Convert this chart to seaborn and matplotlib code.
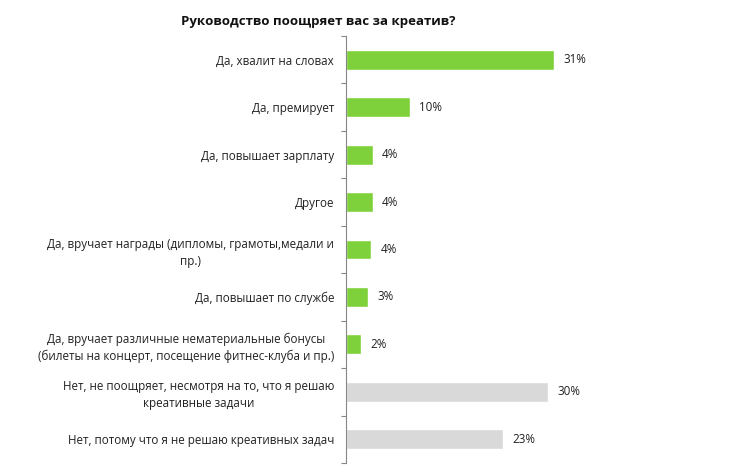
import matplotlib
matplotlib.use("Agg")
import matplotlib.pyplot as plt
import seaborn as sns
import pandas as pd
import numpy as np

categories = [
    "Да, хвалит на словах",
    "Да, премирует",
    "Да, повышает зарплату",
    "Другое",
    "Да, вручает награды (дипломы, грамоты,медали и\nпр.)",
    "Да, повышает по службе",
    "Да, вручает различные нематериальные бонусы\n(билеты на концерт, посещение фитнес-клуба и пр.)",
    "Нет, не поощряет, несмотря на то, что я решаю\nкреативные задачи",
    "Нет, потому что я не решаю креативных задач",
]
values = [31.0, 9.5, 4.0, 4.0, 3.8, 3.3, 2.2, 30.1, 23.4]
value_labels = ["31%", "10%", "4%", "4%", "4%", "3%", "2%", "30%", "23%"]
groups = ["yes"] * 7 + ["no"] * 2

df = pd.DataFrame({"cat": categories, "val": values, "grp": groups})

sns.set_style("white")
plt.rcParams["font.family"] = ["Open Sans", "DejaVu Sans"]

fig = plt.figure(figsize=(7.56, 4.75), dpi=100)
ax = fig.add_axes([346/756, 1 - 463/475, 268/756, 427/475])

sns.barplot(data=df, y="cat", x="val", hue="grp",
            palette={"yes": "#7fd13b", "no": "#d9d9d9"}, saturation=1,
            dodge=False, width=0.42, legend=False, ax=ax, orient="h")

ax.set_xlim(0, 40)
ax.set_ylim(len(categories) - 0.5, -0.5)
ax.set_xlabel("")
ax.set_ylabel("")
ax.set_xticks([])

for s in ["top", "right", "bottom"]:
    ax.spines[s].set_visible(False)
ax.spines["left"].set_color("#868686")
ax.spines["left"].set_linewidth(0.8)

ax.set_yticks(range(len(categories)))
ax.set_yticklabels(categories, fontsize=8.4, color="#222222",
                   multialignment="center", linespacing=1.35)
ax.tick_params(axis="y", which="major", left=False, length=0, pad=8.6)
ax.set_yticks(np.arange(-0.5, len(categories) + 0.5, 1), minor=True)
ax.tick_params(axis="y", which="minor", left=True, length=3.6, color="#868686", width=0.8)

for i, (v, lab) in enumerate(zip(values, value_labels)):
    ax.text(v + 1.4, i, lab, va="center", ha="left", fontsize=8.4, color="#222222")

fig.text(181/756, 1 - 22/475, "Руководство поощряет вас за креатив?",
         fontsize=9.5, fontweight="bold", ha="left", va="center", color="#111111")

fig.savefig("out.png", dpi=100)
